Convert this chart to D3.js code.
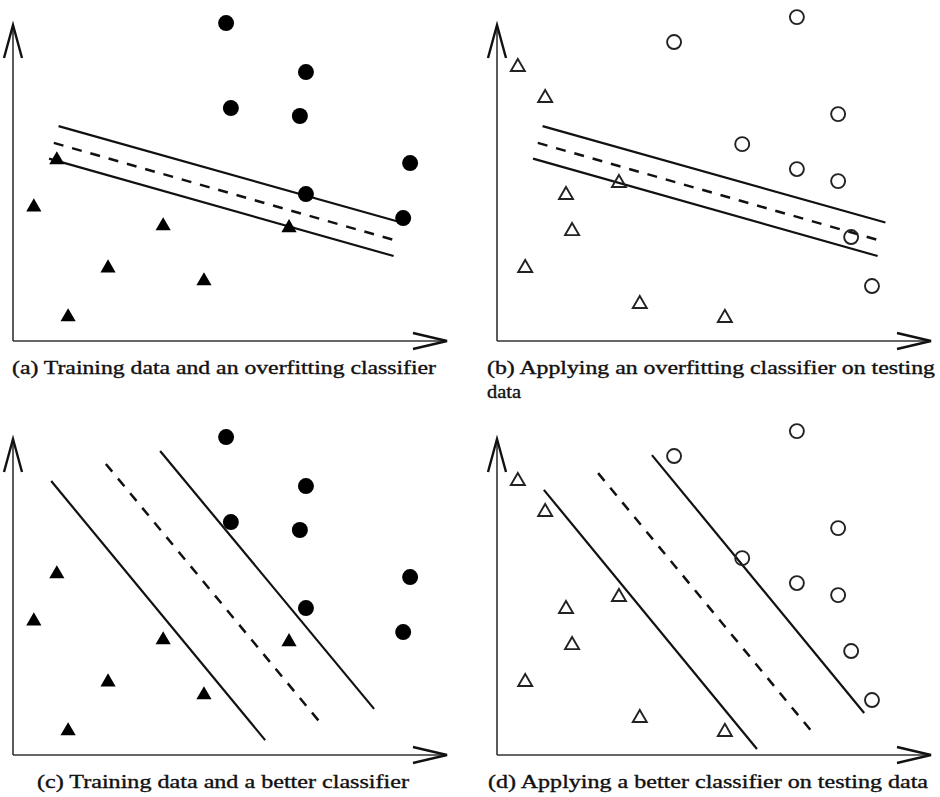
<!DOCTYPE html>
<html>
<head>
<meta charset="utf-8">
<script src="https://cdn.jsdelivr.net/npm/d3@7"></script>
<style>
  body { margin: 0; background: #fff; }
  svg { display: block; }
</style>
</head>
<body>
<svg id="chart"></svg>
<script>
const width = 940;
const height = 797;
const svg = d3.select("#chart")
  .attr("width", width)
  .attr("height", height);

// Data (axis units 0..100, both axes)
const trainCircles = [[49.1, 100.6], [67.5, 85.1], [50.2, 73.7], [66.1, 71.2], [91.5, 56.3], [67.5, 46.5], [89.9, 38.9]];
const trainTriangles = [[10.1, 57.3], [4.8, 42.4], [34.6, 36.4], [63.6, 35.8], [21.9, 23.1], [44.0, 19.0], [12.7, 7.6]];
const testCircles = [[40.8, 94.6], [69.1, 102.5], [78.6, 71.8], [56.5, 62.3], [69.1, 54.4], [78.6, 50.6], [81.6, 32.9], [86.4, 17.4]];
const testTriangles = [[4.8, 86.7], [11.1, 76.9], [15.9, 46.2], [28.1, 50.0], [17.3, 34.8], [6.5, 23.1], [32.9, 11.7], [52.5, 7.3]];

// classifier lines: [upper/left margin, decision boundary, lower/right margin]
const overfitLines = [
  [[10.5, 68.0], [89.5, 37.5]],
  [[9.4, 62.7], [88.7, 31.6]],
  [[8.3, 57.7], [87.7, 26.9]]
];
const betterLinesTrain = [
  [[8.8, 86.7], [58.1, 4.7]],
  [[21.4, 92.1], [70.7, 10.4]],
  [[33.9, 96.2], [83.2, 14.6]]
];
const betterLinesTest = [
  [[10.8, 83.9], [59.9, 1.9]],
  [[23.3, 89.2], [72.6, 7.3]],
  [[35.7, 94.9], [84.6, 13.3]]
];

const captions = [
  ["(a) Training data and an overfitting classifier"],
  ["(b) Applying an overfitting classifier on testing", "data"],
  ["(c) Training data and a better classifier"],
  ["(d) Applying a better classifier on testing data"]
];

const panels = [
  { ox: 13, oy: 341, circles: trainCircles, triangles: trainTriangles, filled: true, lines: overfitLines,
    caption: captions[0], capX: 12, capW: [424], capY: 374 },
  { ox: 497, oy: 341, circles: testCircles, triangles: testTriangles, filled: false, lines: overfitLines,
    caption: captions[1], capX: 487, capW: [448, 34], capY: 374 },
  { ox: 13, oy: 755, circles: trainCircles, triangles: trainTriangles, filled: true, lines: betterLinesTrain,
    caption: captions[2], capX: 37, capW: [372], capY: 788 },
  { ox: 497, oy: 755, circles: testCircles, triangles: testTriangles, filled: false, lines: betterLinesTest,
    caption: captions[3], capX: 488, capW: [440], capY: 788 }
];

const axisW = 434;
const axisH = 316;

panels.forEach(p => {
  const x = d3.scaleLinear().domain([0, 100]).range([p.ox, p.ox + axisW]);
  const y = d3.scaleLinear().domain([0, 100]).range([p.oy, p.oy - axisH]);
  const g = svg.append("g");

  // axes with open arrowheads
  g.append("line")
    .attr("x1", x(0)).attr("y1", y(0))
    .attr("x2", x(100) - 2).attr("y2", y(0))
    .attr("stroke", "#333").attr("stroke-width", 1.6);
  g.append("line")
    .attr("x1", x(0)).attr("y1", y(0))
    .attr("x2", x(0)).attr("y2", y(100) + 2)
    .attr("stroke", "#333").attr("stroke-width", 1.6);

  g.append("path")
    .attr("d", `M${x(100) - 34},${y(0) - 8} L${x(100)},${y(0)} L${x(100) - 34},${y(0) + 8}`)
    .attr("fill", "none").attr("stroke", "#111").attr("stroke-width", 2.4)
    .attr("stroke-linejoin", "miter");
  g.append("path")
    .attr("d", `M${x(0) - 9},${y(100) + 33} L${x(0)},${y(100)} L${x(0) + 9},${y(100) + 33}`)
    .attr("fill", "none").attr("stroke", "#111").attr("stroke-width", 2.4)
    .attr("stroke-linejoin", "miter");

  // classifier lines
  const line = d3.line().x(d => x(d[0])).y(d => y(d[1]));
  g.selectAll("path.cls")
    .data(p.lines)
    .enter().append("path")
    .attr("class", "cls")
    .attr("d", line)
    .attr("fill", "none")
    .attr("stroke", "#111")
    .attr("stroke-width", (d, i) => i === 1 ? 2.5 : 2.2)
    .attr("stroke-dasharray", (d, i) => i === 1 ? "10,9" : null);

  // circles
  g.selectAll("circle")
    .data(p.circles)
    .enter().append("circle")
    .attr("cx", d => x(d[0]))
    .attr("cy", d => y(d[1]))
    .attr("r", p.filled ? 8 : 7)
    .attr("fill", p.filled ? "#000" : "none")
    .attr("stroke", p.filled ? "none" : "#222")
    .attr("stroke-width", 1.9);

  // triangles
  const tri = d3.symbol().type(d3.symbolTriangle).size(p.filled ? 100 : 85);
  g.selectAll("path.tri")
    .data(p.triangles)
    .enter().append("path")
    .attr("class", "tri")
    .attr("d", tri)
    .attr("transform", d => `translate(${x(d[0])},${y(d[1])})`)
    .attr("fill", p.filled ? "#000" : "none")
    .attr("stroke", p.filled ? "none" : "#222")
    .attr("stroke-width", 1.9);

  // caption
  p.caption.forEach((t, i) => {
    g.append("text")
      .attr("x", p.capX)
      .attr("y", p.capY + i * 24)
      .attr("textLength", p.capW[i])
      .attr("lengthAdjust", "spacingAndGlyphs")
      .style("font-family", "'Liberation Serif', 'DejaVu Serif', serif")
      .style("font-size", "18px")
      .attr("fill", "#111")
      .attr("stroke", "#111")
      .attr("stroke-width", 0.35)
      .text(t);
  });
});
</script>
</body>
</html>
